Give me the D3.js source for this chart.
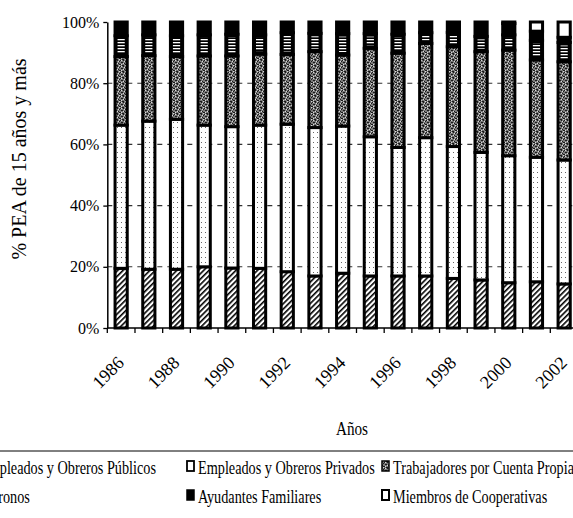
<!DOCTYPE html>
<html><head><meta charset="utf-8">
<script src="https://cdn.jsdelivr.net/npm/d3@7"></script>
<style>body{margin:0;background:#fff;} svg{display:block;}</style>
</head><body>
<svg id="c" width="573" height="518"></svg>
<script>
const years = [1986,1987,1988,1989,1990,1991,1992,1993,1994,1995,1996,1997,1998,1999,2000,2001,2002];
const tickYears = [1986,1988,1990,1992,1994,1996,1998,2000,2002];
const publicos     = [19.5,19.2,19.2,20.0,19.6,19.5,18.4,17.0,17.9,17.0,17.0,17.0,16.2,15.7,14.8,15.1,14.4];
const privados     = [46.8,48.4,49.0,46.3,46.2,46.8,48.2,48.5,48.1,45.5,42.0,45.2,43.1,41.7,41.5,40.7,40.5];
const cuentaPropia = [22.4,21.4,20.5,22.6,23.1,23.2,22.8,24.8,23.2,28.9,30.8,30.8,32.6,32.9,34.5,31.8,32.1];
const patronos     = [6.8,6.8,6.8,6.9,7.1,6.3,7.1,6.0,7.0,4.8,6.2,3.5,4.7,5.0,5.0,6.4,6.3];
const ayudantes    = [4.5,4.2,4.5,4.2,4.0,4.2,3.5,3.7,3.8,3.8,4.0,3.5,3.4,4.7,3.7,3.0,1.7];
const cooperativas = [0,0,0,0,0,0,0,0,0,0,0,0,0,0,0.5,3.0,5.0];
const seriesNames = ["Empleados y Obreros Públicos","Empleados y Obreros Privados","Trabajadores por Cuenta Propia","Patronos","Ayudantes Familiares","Miembros de Cooperativas"];
const yTicks = [0,20,40,60,80,100];
const gridTicks = [20,40,60,80];

const keys = ["pub","priv","cp","pat","ayu","coop"];
const rows = years.map((yr,i)=>({year:yr,pub:publicos[i],priv:privados[i],cp:cuentaPropia[i],pat:patronos[i],ayu:ayudantes[i],coop:cooperativas[i]}));

const svg = d3.select("#c");
const FONT = "'Liberation Serif','Times New Roman',serif";

// patterns
const defs = svg.append("defs");
const hatch = defs.append("pattern").attr("id","hatch").attr("patternUnits","userSpaceOnUse")
  .attr("width",3.8).attr("height",3.8).attr("patternTransform","rotate(45)");
hatch.append("rect").attr("width",3.8).attr("height",3.8).attr("fill","#fff");
hatch.append("rect").attr("x",0).attr("width",1.6).attr("height",3.8).attr("fill","#000");

const dots = defs.append("pattern").attr("id","dots").attr("patternUnits","userSpaceOnUse")
  .attr("width",4).attr("height",5);
dots.append("rect").attr("width",4).attr("height",5).attr("fill","#fff");
dots.append("rect").attr("x",1).attr("y",2).attr("width",1).attr("height",1).attr("fill","#666");

const stip = defs.append("pattern").attr("id","stip").attr("patternUnits","userSpaceOnUse")
  .attr("width",6).attr("height",6);
stip.append("rect").attr("width",6).attr("height",6).attr("fill","#7a7a7a");
[[0,0],[3,0],[5,1],[1,2],[2,2],[4,3],[0,4],[3,5],[5,4],[2,5]].forEach(p=>stip.append("rect").attr("x",p[0]).attr("y",p[1]).attr("width",1).attr("height",1).attr("fill","#1a1a1a"));
[[1,0],[4,1],[3,3],[1,4],[5,5]].forEach(p=>stip.append("rect").attr("x",p[0]).attr("y",p[1]).attr("width",1).attr("height",1).attr("fill","#d8d8d8"));

const hl = defs.append("pattern").attr("id","hlines").attr("patternUnits","userSpaceOnUse")
  .attr("width",4).attr("height",3);
hl.append("rect").attr("width",4).attr("height",3).attr("fill","#000");
hl.append("rect").attr("y",0).attr("width",4).attr("height",1.3).attr("fill","#fff");

const fills = {pub:"url(#hatch)",priv:"url(#dots)",cp:"url(#stip)",pat:"#000",ayu:"#000",coop:"#fff"};

const x = d3.scaleBand().domain(years).range([107.3,578]).paddingInner(0.56).paddingOuter(0.28);
const y = d3.scaleLinear().domain([0,100]).range([328,22]);

// gridlines
svg.append("g").selectAll("line").data(gridTicks).join("line")
  .attr("x1",107.3).attr("x2",578).attr("y1",d=>y(d)).attr("y2",d=>y(d))
  .attr("stroke","#333").attr("stroke-width",1.1).attr("stroke-dasharray","5,5");

// bars
const stacked = d3.stack().keys(keys)(rows);
const bw = x.bandwidth();
const gBars = svg.append("g");
stacked.forEach(s=>{
  const g = gBars.append("g");
  g.selectAll("rect").data(s.filter(d=>d[1]-d[0]>0)).join("rect")
    .attr("x",d=>x(d.data.year)).attr("width",bw)
    .attr("y",d=>y(d[1])).attr("height",d=>y(d[0])-y(d[1]))
    .attr("fill",fills[s.key]).attr("stroke","#000").attr("stroke-width",3);
  if(s.key==="pat"){
    g.selectAll("rect.in").data(s.filter(d=>y(d[0])-y(d[1])>6)).join("rect").attr("class","in")
      .attr("x",d=>x(d.data.year)+2.5).attr("width",bw-5)
      .attr("y",d=>y(d[1])+3).attr("height",d=>y(d[0])-y(d[1])-6)
      .attr("fill","url(#hlines)");
  }
});

// x axis
svg.append("line").attr("x1",107.3).attr("x2",578).attr("y1",y(0)).attr("y2",y(0)).attr("stroke","#000").attr("stroke-width",1.5);
svg.append("g").selectAll("line").data(years).join("line")
  .attr("x1",d=>x(d)+bw/2-x.step()/2).attr("x2",d=>x(d)+bw/2-x.step()/2)
  .attr("y1",y(0)).attr("y2",y(0)+5).attr("stroke","#000").attr("stroke-width",1.3);
svg.append("g").selectAll("text").data(tickYears).join("text")
  .attr("transform",d=>`translate(${x(d)+bw/2+4},364) rotate(-45)`)
  .attr("text-anchor","end").attr("font-family",FONT).attr("font-size",18).attr("fill","#000")
  .text(d=>d);

// y axis
const yAxis = svg.append("g").attr("transform","translate(107.3,0)")
  .call(d3.axisLeft(y).tickValues(yTicks).tickFormat(d=>d+"%").tickSize(4).tickSizeOuter(0));
yAxis.select(".domain").attr("stroke","#000").attr("stroke-width",1.5);
yAxis.selectAll(".tick line").attr("stroke","#000").attr("stroke-width",1.3);
yAxis.selectAll(".tick text").attr("font-family",FONT).attr("font-size",16).attr("fill","#000").attr("x",-8);

svg.append("text").attr("transform","translate(26,159) rotate(-90)").attr("text-anchor","middle")
  .attr("font-family",FONT).attr("font-size",20).attr("fill","#000").text("% PEA de 15 años y más");

svg.append("text").attr("transform","translate(352,435) scale(0.8,1)").attr("text-anchor","middle")
  .attr("font-family",FONT).attr("font-size",19).attr("fill","#000").text("Años");

svg.append("line").attr("x1",0).attr("x2",573).attr("y1",451).attr("y2",451).attr("stroke","#000").attr("stroke-width",1);

// legend
const colX = [-31,187,382];
const rowY = [474,503];
const legStyle = [
  {fill:"url(#hatch)",sw:1.5},{fill:"#fff",sw:1.8},{fill:"url(#stip)",sw:1.5},
  {fill:"url(#hlines)",sw:1.5},{fill:"#000",sw:1.5},{fill:"#fff",sw:2}
];
const leg = svg.append("g");
seriesNames.forEach((nm,i)=>{
  const cx = colX[i%3], by = rowY[Math.floor(i/3)];
  leg.append("rect").attr("x",cx).attr("y",by-13).attr("width",7).attr("height",10)
    .attr("fill",legStyle[i].fill).attr("stroke","#000").attr("stroke-width",legStyle[i].sw);
  leg.append("text").attr("transform",`translate(${cx+11},${by}) scale(0.77,1)`)
    .attr("font-family",FONT).attr("font-size",18.5)
    .attr("fill","#000").text(nm);
});
</script>
</body></html>
